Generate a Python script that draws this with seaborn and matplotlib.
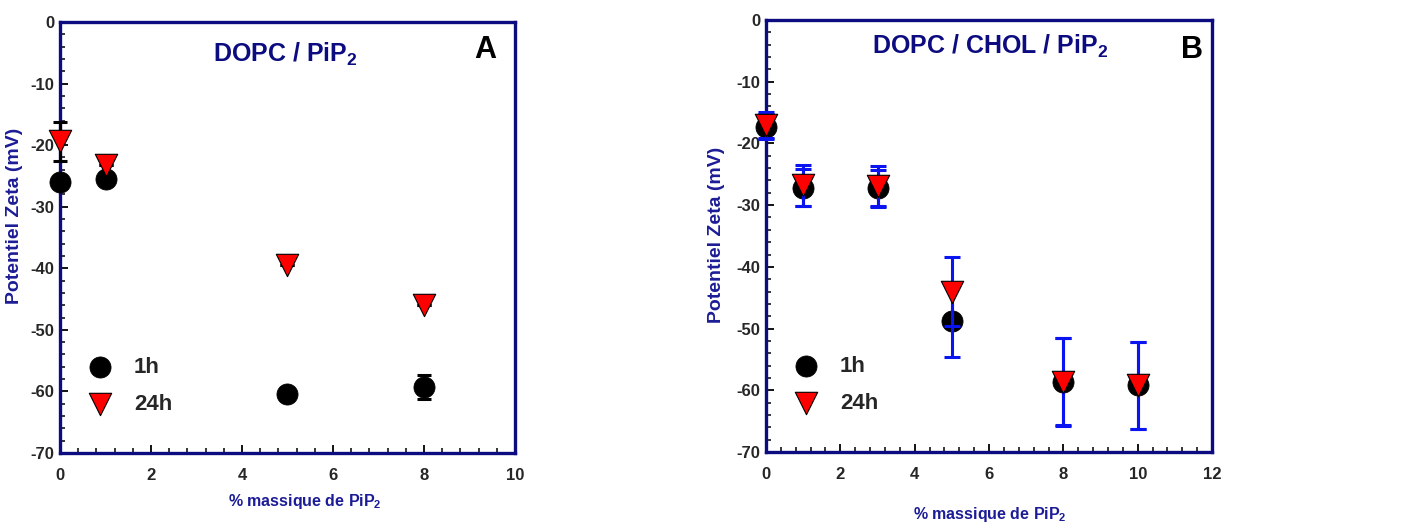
import pandas as pd
import seaborn as sns
import matplotlib.pyplot as plt
from matplotlib.ticker import MultipleLocator

# Panel A : DOPC / PiP2
xa = [0, 1, 5, 8]
a_1h = [-26.0, -25.5, -60.5, -59.3]
a_1h_err = [0, 0, 0, 2.0]
a_24h = [-19.4, -23.2, -39.5, -46.0]
a_24h_err = [3.1, 0, 0, 0]

# Panel B : DOPC / CHOL / PiP2
xb = [0, 1, 3, 5, 8, 10]
b_1h = [-17.3, -27.2, -27.3, -48.8, -58.6, -59.2]
b_1h_err = [2.0, 3.0, 3.0, 5.8, 7.0, 7.0]
b_24h = [-17.0, -26.8, -26.9, -44.0, -58.7, -59.2]
b_24h_err = [2.1, 3.3, 3.3, 5.6, 7.1, 7.1]

sns.set_style("white")
plt.rcParams['font.family'] = ['Liberation Sans', 'DejaVu Sans']
plt.rcParams['font.weight'] = 'bold'
plt.rcParams['axes.unicode_minus'] = False
plt.rcParams['mathtext.fontset'] = 'custom'
plt.rcParams['mathtext.rm'] = 'Liberation Sans:bold'
plt.rcParams['mathtext.default'] = 'rm'

navy = '#0c0c80'
label_blue = '#1c1c96'

fig = plt.figure(figsize=(14.12, 5.29), dpi=100)
axA = fig.add_axes([0.0425, 0.1437, 0.3222, 0.8147])
axB = fig.add_axes([0.5425, 0.1456, 0.3159, 0.8166])


def panel(ax, x, y1, e1, y24, e24, errcolor, capsize, xmax, title, letter, tx, ty,
          letx, lety, lx, ly, xl_x, xl_y, yl_x, yl_y):
    df1 = pd.DataFrame({'x': x, 'y': y1})
    df24 = pd.DataFrame({'x': x, 'y': y24})
    sns.scatterplot(data=df1, x='x', y='y', ax=ax, marker='o', s=230, color='black',
                    edgecolor='black', linewidth=0.6, label='1h', zorder=3, clip_on=False)
    for yy, ee in [(y1, e1), (y24, e24)]:
        eb = ax.errorbar(x, yy, yerr=ee, fmt='none', ecolor=errcolor, elinewidth=2.2,
                         capsize=capsize, capthick=2.2, zorder=4)
        for art in eb.lines[1] + eb.lines[2]:
            art.set_clip_on(False)
    sns.scatterplot(data=df24, x='x', y='y', ax=ax, marker='v', s=260, color='red',
                    edgecolor='black', linewidth=0.8, label='24h', zorder=5, clip_on=False)

    ax.set_xlim(0, xmax)
    ax.set_ylim(-70, 0)
    ax.xaxis.set_major_locator(MultipleLocator(2))
    ax.xaxis.set_minor_locator(MultipleLocator(0.4))
    ax.yaxis.set_major_locator(MultipleLocator(10))
    ax.yaxis.set_minor_locator(MultipleLocator(2))
    ax.tick_params(which='both', direction='in', bottom=True, left=True, top=False,
                   right=False, color='black')
    ax.tick_params(which='major', length=6, width=1.3, labelsize=12)
    ax.tick_params(which='minor', length=3.5, width=1.1)
    ax.tick_params(axis='x', pad=11)
    ax.tick_params(axis='y', pad=4)
    for lab in ax.get_xticklabels() + ax.get_yticklabels():
        lab.set_fontweight('bold')
    for sp in ax.spines.values():
        sp.set_color(navy)
        sp.set_linewidth(2.4)

    ax.set_xlabel('% massique de PiP$_2$', fontsize=11.5, fontweight='bold', color=label_blue)
    ax.set_ylabel('Potentiel Zeta (mV)', fontsize=14, fontweight='bold', color=label_blue)
    ax.xaxis.set_label_coords(xl_x, xl_y)
    ax.yaxis.set_label_coords(yl_x, yl_y)

    ax.text(tx, ty, title, transform=ax.transAxes, ha='center', va='center',
            fontsize=18, fontweight='bold', color=navy)
    ax.text(letx, lety, letter, transform=ax.transAxes, ha='center', va='center',
            fontsize=22, fontweight='bold', color='black')

    ax.legend(loc='upper left', bbox_to_anchor=(lx, ly), frameon=False,
              prop={'weight': 'bold', 'size': 16},
              borderpad=0, borderaxespad=0, handletextpad=0.55, labelspacing=0.7,
              scatterpoints=1)


panel(axA, xa, a_1h, a_1h_err, a_24h, a_24h_err, 'black', 5, 10,
      'DOPC / PiP$_2$', 'A', 0.495, 0.925, 0.934, 0.935,
      0.038, 0.222, 0.538, -0.09, -0.081, 0.55)
panel(axB, xb, b_1h, b_1h_err, b_24h, b_24h_err, '#0a14f0', 6, 12,
      'DOPC / CHOL / PiP$_2$', 'B', 0.502, 0.94, 0.955, 0.93,
      0.039, 0.222, 0.502, -0.123, -0.092, 0.502)

fig.savefig('out.png', dpi=100)
